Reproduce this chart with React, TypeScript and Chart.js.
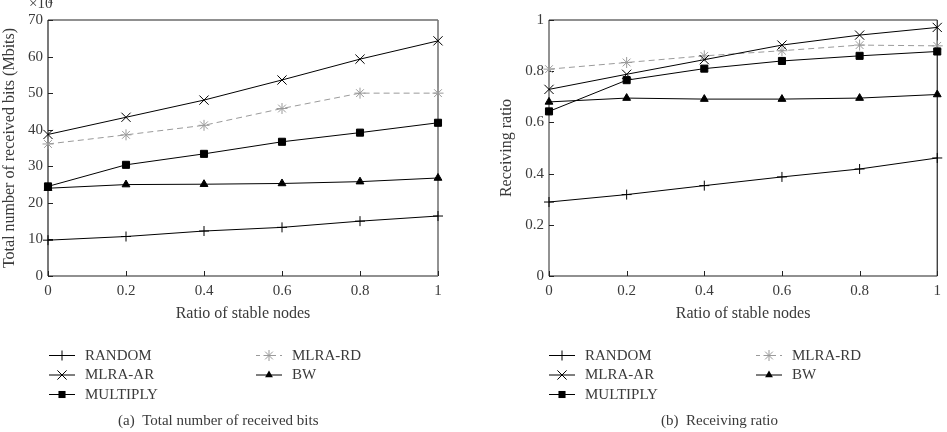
import React, { useEffect, useRef } from 'react';
import { Chart, registerables } from 'chart.js';

Chart.register(...registerables);

// ---------- data ----------
const xValues = [0, 0.2, 0.4, 0.6, 0.8, 1];
const seriesNames = ['RANDOM', 'MLRA-AR', 'MULTIPLY', 'MLRA-RD', 'BW'];

// (a) total number of received bits (x10^4 Mbits)
const bitsRandom = [9.8, 10.8, 12.3, 13.3, 15.0, 16.4];
const bitsMlraAr = [38.7, 43.4, 48.1, 53.6, 59.3, 64.3];
const bitsMultiply = [24.5, 30.4, 33.4, 36.7, 39.2, 41.9];
const bitsMlraRd = [36.1, 38.6, 41.2, 45.8, 50.0, 50.0];
const bitsBw = [24.0, 25.0, 25.1, 25.3, 25.8, 26.8];

// (b) receiving ratio
const ratioRandom = [0.289, 0.318, 0.353, 0.387, 0.418, 0.461];
const ratioMlraAr = [0.729, 0.788, 0.845, 0.902, 0.941, 0.971];
const ratioMultiply = [0.643, 0.765, 0.81, 0.84, 0.86, 0.877];
const ratioMlraRd = [0.808, 0.834, 0.86, 0.88, 0.902, 0.899];
const ratioBw = [0.68, 0.695, 0.691, 0.691, 0.695, 0.709];

const bitsTicks = [0, 10, 20, 30, 40, 50, 60, 70];
const ratioTicks = [0, 0.2, 0.4, 0.6, 0.8, 1];
const xTickLabels = ['0', '0.2', '0.4', '0.6', '0.8', '1'];
const bitsTickLabels = ['0', '10', '20', '30', '40', '50', '60', '70'];
const ratioTickLabels = ['0', '0.2', '0.4', '0.6', '0.8', '1'];

// ---------- styles ----------
const FONT = "'Liberation Serif', 'DejaVu Serif', serif";
const TEXT = '#3a3a3a';

const styles: Record<string, any> = {
  'RANDOM': { color: '#000', pointStyle: 'cross', radius: 5, dash: [], fill: '#000' },
  'MLRA-AR': { color: '#000', pointStyle: 'crossRot', radius: 6.5, dash: [], fill: '#000' },
  'MULTIPLY': { color: '#000', pointStyle: 'rect', radius: 5, dash: [], fill: '#000' },
  'MLRA-RD': { color: '#9a9a9a', pointStyle: 'star', radius: 5.5, dash: [6, 4], fill: '#9a9a9a' },
  'BW': { color: '#000', pointStyle: 'triangle', radius: 4.5, dash: [], fill: '#000' },
};

const legendLayout = [
  { name: 'RANDOM', col: 0, row: 0 },
  { name: 'MLRA-RD', col: 1, row: 0 },
  { name: 'MLRA-AR', col: 0, row: 1 },
  { name: 'BW', col: 1, row: 1 },
  { name: 'MULTIPLY', col: 0, row: 2 },
];

function drawMarker(ctx: CanvasRenderingContext2D, style: string, x: number, y: number, r: number, color: string) {
  ctx.save();
  ctx.strokeStyle = color;
  ctx.fillStyle = color;
  ctx.lineWidth = 1;
  ctx.setLineDash([]);
  ctx.beginPath();
  if (style === 'cross') {
    ctx.moveTo(x - r, y); ctx.lineTo(x + r, y);
    ctx.moveTo(x, y - r); ctx.lineTo(x, y + r);
    ctx.stroke();
  } else if (style === 'crossRot') {
    const d = r * Math.SQRT1_2;
    ctx.moveTo(x - d, y - d); ctx.lineTo(x + d, y + d);
    ctx.moveTo(x - d, y + d); ctx.lineTo(x + d, y - d);
    ctx.stroke();
  } else if (style === 'star') {
    const d = r * Math.SQRT1_2;
    ctx.moveTo(x - r, y); ctx.lineTo(x + r, y);
    ctx.moveTo(x, y - r); ctx.lineTo(x, y + r);
    ctx.moveTo(x - d, y - d); ctx.lineTo(x + d, y + d);
    ctx.moveTo(x - d, y + d); ctx.lineTo(x + d, y - d);
    ctx.stroke();
  } else if (style === 'rect') {
    const s = r * Math.SQRT1_2;
    ctx.fillRect(x - s, y - s, 2 * s, 2 * s);
  } else if (style === 'triangle') {
    const w = r * Math.sqrt(3) / 2;
    ctx.moveTo(x, y - r);
    ctx.lineTo(x + w, y + r / 2);
    ctx.lineTo(x - w, y + r / 2);
    ctx.closePath();
    ctx.fill();
  }
  ctx.restore();
}

interface PanelProps {
  series: number[][];
  yTicks: number[];
  yTickLabels: string[];
  yTitle: string;
  caption: string;
  width: number;
  padLeft: number;
  padRight: number;
  yWidth: number;
  yTitlePad: number;
  legendCol0: number;
  legendCol1: number;
  captionX: number;
  exponent: boolean;
  grayEdge: 'left' | 'right';
}

function Panel(props: PanelProps) {
  const ref = useRef<HTMLCanvasElement | null>(null);
  useEffect(() => {
    const canvas = ref.current;
    if (!canvas) return;
    const ymax = props.yTicks[props.yTicks.length - 1];

    const datasets = seriesNames.map((name, si) => {
      const st = styles[name];
      return {
        label: name,
        data: xValues.map((x, i) => ({ x, y: props.series[si][i] })),
        borderColor: st.color,
        backgroundColor: st.fill,
        borderWidth: 1,
        borderDash: st.dash,
        pointStyle: st.pointStyle,
        pointRadius: st.radius,
        pointBorderWidth: 1,
        pointBorderColor: st.color,
        pointBackgroundColor: st.fill,
        tension: 0,
        clip: false,
      };
    });

    const framePlugin = {
      id: 'frame',
      beforeDatasetsDraw(chart: any) {
        const { ctx, chartArea } = chart;
        const { left, right, top, bottom } = chartArea;
        const xs = chart.scales.x;
        const ys = chart.scales.y;
        ctx.save();
        ctx.lineWidth = 1.2;
        ctx.strokeStyle = '#222';
        ctx.beginPath();
        ctx.moveTo(left, top); ctx.lineTo(right, top);
        ctx.moveTo(left, bottom); ctx.lineTo(right, bottom);
        if (props.grayEdge === 'right') {
          ctx.moveTo(left, top); ctx.lineTo(left, bottom);
        } else {
          ctx.moveTo(right, top); ctx.lineTo(right, bottom);
        }
        ctx.stroke();
        ctx.strokeStyle = '#777';
        ctx.lineWidth = 1.6;
        ctx.beginPath();
        const gx = props.grayEdge === 'right' ? right : left;
        ctx.moveTo(gx, top); ctx.lineTo(gx, bottom);
        ctx.stroke();
        // inward ticks
        ctx.strokeStyle = '#222';
        ctx.lineWidth = 1;
        ctx.beginPath();
        props.yTicks.forEach((v) => {
          const py = Math.round(ys.getPixelForValue(v)) + 0.5;
          ctx.moveTo(left, py); ctx.lineTo(left + 5, py);
        });
        xValues.forEach((v) => {
          const px = Math.round(xs.getPixelForValue(v)) + 0.5;
          ctx.moveTo(px, bottom); ctx.lineTo(px, bottom - 5);
        });
        ctx.stroke();
        ctx.restore();
      },
      afterDraw(chart: any) {
        const { ctx } = chart;
        ctx.save();
        ctx.font = `15px ${FONT}`;
        ctx.fillStyle = TEXT;
        ctx.textBaseline = 'middle';
        ctx.textAlign = 'left';
        const rowsY = [355, 374.5, 394];
        legendLayout.forEach((it) => {
          const st = styles[it.name];
          const x0 = it.col === 0 ? props.legendCol0 : props.legendCol1;
          const y = rowsY[it.row];
          ctx.save();
          ctx.strokeStyle = st.color;
          ctx.lineWidth = 1;
          ctx.setLineDash(st.dash.length ? [4, 4] : []);
          ctx.beginPath();
          ctx.moveTo(x0, y + 0.5); ctx.lineTo(x0 + 26, y + 0.5);
          ctx.stroke();
          ctx.restore();
          drawMarker(ctx, st.pointStyle, x0 + 13, y + 0.5, st.radius, st.color);
          ctx.fillText(it.name, x0 + 36, y + 1);
        });
        ctx.fillText(props.caption, props.captionX, 421);
        if (props.exponent) {
          ctx.textBaseline = 'alphabetic';
          ctx.font = `15px ${FONT}`;
          ctx.fillText('\u00d710', 29, 8);
          ctx.font = `10px ${FONT}`;
          ctx.fillText('4', 48, 4);
        }
        ctx.restore();
      },
    };

    const chart = new Chart(canvas, {
      type: 'line',
      data: { datasets } as any,
      options: {
        responsive: false,
        animation: false,
        layout: { padding: { left: props.padLeft, right: props.padRight, top: 20, bottom: 106 } },
        plugins: { legend: { display: false }, tooltip: { enabled: false } },
        scales: {
          x: {
            type: 'linear',
            min: 0,
            max: 1,
            afterBuildTicks: (s: any) => { s.ticks = xValues.map((v) => ({ value: v })); },
            afterFit: (s: any) => { s.height = 50; },
            grid: { display: false, drawTicks: false },
            border: { display: false },
            ticks: {
              padding: 6,
              color: TEXT,
              font: { family: FONT, size: 15 },
              maxRotation: 0,
              autoSkip: false,
              callback: (_v: any, i: number) => xTickLabels[i],
            },
            title: {
              display: true,
              text: 'Ratio of stable nodes',
              color: TEXT,
              font: { family: FONT, size: 16 },
              padding: { top: 0, bottom: 2.5 },
            },
          },
          y: {
            type: 'linear',
            min: 0,
            max: ymax,
            afterBuildTicks: (s: any) => { s.ticks = props.yTicks.map((v) => ({ value: v })); },
            afterFit: (s: any) => { s.width = props.yWidth; },
            grid: { display: false, drawTicks: false },
            border: { display: false },
            ticks: {
              padding: 5,
              color: TEXT,
              font: { family: FONT, size: 15 },
              autoSkip: false,
              callback: (_v: any, i: number) => props.yTickLabels[i],
            },
            title: {
              display: true,
              text: props.yTitle,
              color: TEXT,
              font: { family: FONT, size: 16 },
              padding: { top: props.yTitlePad, bottom: 0 },
            },
          },
        },
      } as any,
      plugins: [framePlugin],
    });
    return () => chart.destroy();
  }, []);

  return (
    <canvas
      ref={ref}
      width={props.width}
      height={432}
      style={{ width: props.width, height: 432, display: 'block' }}
    />
  );
}

export default function App() {
  return (
    <div style={{ position: 'fixed', left: 0, top: 0, width: 947, height: 432, background: '#fff', display: 'flex' }}>
      <Panel
        series={[bitsRandom, bitsMlraAr, bitsMultiply, bitsMlraRd, bitsBw]}
        yTicks={bitsTicks}
        yTickLabels={bitsTickLabels}
        yTitle="Total number of received bits (Mbits)"
        caption="(a)  Total number of received bits"
        width={473}
        padLeft={0}
        padRight={35}
        yWidth={48}
        yTitlePad={0.6}
        legendCol0={49}
        legendCol1={256}
        captionX={118}
        exponent={true}
        grayEdge="right"
      />
      <Panel
        series={[ratioRandom, ratioMlraAr, ratioMultiply, ratioMlraRd, ratioBw]}
        yTicks={ratioTicks}
        yTickLabels={ratioTickLabels}
        yTitle="Receiving ratio"
        caption="(b)  Receiving ratio"
        width={474}
        padLeft={22}
        padRight={8}
        yWidth={54}
        yTitlePad={2.4}
        legendCol0={76}
        legendCol1={283}
        captionX={188}
        exponent={false}
        grayEdge="left"
      />
    </div>
  );
}
